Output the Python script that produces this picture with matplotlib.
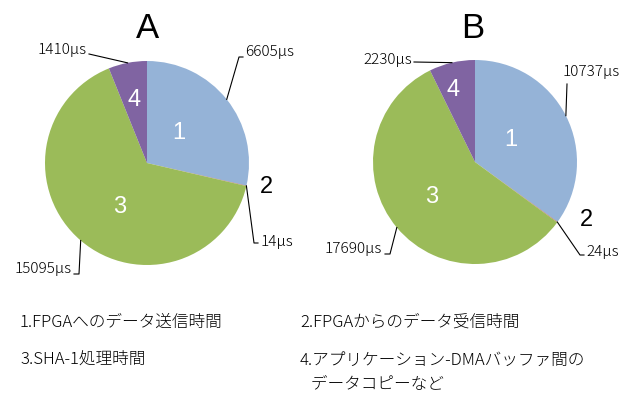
import numpy as np
import matplotlib.pyplot as plt

plt.rcParams['font.family'] = ['Noto Sans CJK JP', 'DejaVu Sans']

# data
titles = ['A', 'B']
slice_names = ['1', '2', '3', '4']
times_a = [6605, 14, 15095, 1410]
times_b = [10737, 24, 17690, 2230]
legend_lines = ['1.FPGAへのデータ送信時間', '2.FPGAからのデータ受信時間',
                '3.SHA-1処理時間', '4.アプリケーション-DMAバッファ間の\n   データコピーなど']

colors = ['#95B3D7', '#C0504D', '#9BBB59', '#8064A2']

W, H = 633, 394
fig = plt.figure(figsize=(W / 100, H / 100), dpi=100)
ax = fig.add_axes([0, 0, 1, 1])

def Y(py):
    return H - py

# layout per pie (pixel coords, y from top)
layouts = [
    dict(cx=147, cy=163, r=102, title=(147, 28),
         inner={'1': (179, 133), '3': (120, 207), '4': (134, 100)},
         outer2=(266, 187),
         value_lbl=[((239, 57), (243, 57), (245, 52), 'left'),
                    ((254, 243), (258, 243), (261, 242), 'left'),
                    ((79, 274), (74, 274), (72, 269), 'right'),
                    ((89, 54), (89, 54), (87, 50), 'right')]),
    dict(cx=475, cy=162, r=102, title=(473, 28),
         inner={'1': (511, 140), '3': (432, 197), '4': (453, 90)},
         outer2=(586, 220),
         value_lbl=[((567, 84), (567, 84), (563, 72), 'left'),
                    ((580, 255), (584, 255), (586, 252), 'left'),
                    ((390, 254), (385, 254), (382, 249), 'right'),
                    ((414, 62), (414, 62), (412, 60), 'right')]),
]

for vals, lay, title in zip([times_a, times_b], layouts, titles):
    wedges, _ = ax.pie(vals, colors=colors, startangle=90, counterclock=False,
                       center=(lay['cx'], Y(lay['cy'])), radius=lay['r'],
                       wedgeprops=dict(linewidth=0))
    ax.text(lay['title'][0], Y(lay['title'][1]), title, fontsize=25,
            ha='center', va='center', family='Liberation Sans')
    for name, (px, py) in lay['inner'].items():
        ax.text(px, Y(py), name, color='white', fontsize=17, ha='center',
                va='center', family='Liberation Sans')
    ax.text(lay['outer2'][0], Y(lay['outer2'][1]), '2', color='black',
            fontsize=17, ha='center', va='center', family='Liberation Sans')
    for w, v, (elbow, end, tpos, ha) in zip(wedges, vals, lay['value_lbl']):
        mid = np.deg2rad((w.theta1 + w.theta2) / 2)
        ax0 = lay['cx'] + lay['r'] * np.cos(mid)
        ay0 = Y(lay['cy']) + lay['r'] * np.sin(mid)
        ax.plot([ax0, elbow[0], end[0]], [ay0, Y(elbow[1]), Y(end[1])],
                color='black', lw=0.8)
        ax.text(tpos[0], Y(tpos[1]), f'{v}μs', fontsize=11, ha=ha,
                va='center', fontweight='light')

# legend text
legend_pos = [(20, 322), (300, 322), (20, 360), (300, 360)]
for (px, py), txt in zip(legend_pos, legend_lines):
    for i, line in enumerate(txt.split('\n')):
        ax.text(px, Y(py + 24 * i), line, fontsize=12, ha='left',
                va='center', fontweight='light')

ax.set_xlim(0, W)
ax.set_ylim(0, H)
ax.set_aspect('auto')
ax.axis('off')

fig.savefig('out.png', dpi=100)
